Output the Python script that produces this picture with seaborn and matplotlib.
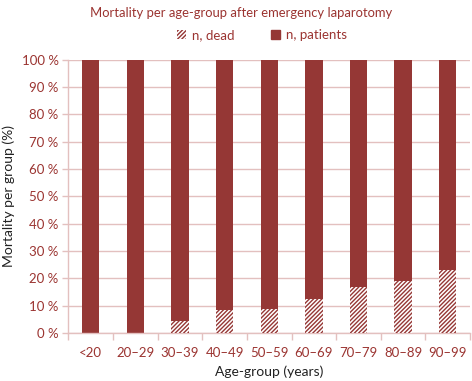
import matplotlib
matplotlib.use("Agg")
import matplotlib.pyplot as plt
import seaborn as sns
import pandas as pd
from matplotlib.patches import Patch

categories = ["<20", "20\u201329", "30\u201339", "40\u201349", "50\u201359", "60\u201369", "70\u201379", "80\u201389", "90\u201399"]
dead_pct = [0.0, 0.0, 4.4, 8.4, 8.8, 12.5, 16.8, 19.0, 23.0]
patients_pct = [100, 100, 100, 100, 100, 100, 100, 100, 100]
yticks = [0, 10, 20, 30, 40, 50, 60, 70, 80, 90, 100]

sns.set_style("white")
plt.rcParams['font.family'] = ['Lato', 'DejaVu Sans']
plt.rcParams['hatch.linewidth'] = 1.0

RED = "#953735"
TXT = "#9b3431"
GRID = "#e3c0bf"
HATCH = "////////"

df = pd.DataFrame({"cat": categories, "dead": dead_pct, "patients": patients_pct})

fig = plt.figure(figsize=(4.72, 3.81), dpi=100)
ax = fig.add_axes([0.145, 0.126, 0.851, 0.717])

sns.barplot(data=df, x="cat", y="patients", color=RED, saturation=1, width=0.39, ax=ax, zorder=2)
sns.barplot(data=df, x="cat", y="dead", color="white", saturation=1, width=0.39, ax=ax, zorder=3)
n = len(categories)
for p in ax.patches[n:]:
    p.set_facecolor("white")
    p.set_edgecolor(RED)
    p.set_hatch(HATCH)
    p.set_linewidth(0)
    if p.get_height() <= 0:
        p.set_visible(False)
for p in ax.patches[:n]:
    p.set_edgecolor(RED)
    p.set_linewidth(0)

ax.set_ylim(0, 100)
ax.set_xlim(-0.5, n - 0.5)
ax.set_yticks(yticks)
ax.set_yticklabels([f"{v} %" for v in yticks], color=TXT, fontsize=9.5)
ax.set_xticks(range(n))
ax.set_xticklabels(categories, color=TXT, fontsize=9.5)
ax.tick_params(axis="x", length=0, pad=10)
ax.tick_params(axis="y", length=4, color=GRID, width=1, pad=3, direction="out", left=True)
ax.set_xticks([i - 0.5 for i in range(n + 1)], minor=True)
ax.tick_params(axis="x", which="minor", length=5, color=GRID, width=1, bottom=True)

ax.yaxis.grid(True, color=GRID, linewidth=1, zorder=0)
ax.set_axisbelow(True)
for s in ["top", "right"]:
    ax.spines[s].set_visible(False)
for s in ["left", "bottom"]:
    ax.spines[s].set_color(GRID)
    ax.spines[s].set_linewidth(1)

ax.set_xlabel("Age-group (years)", fontsize=10, color="#222222", labelpad=5)
ax.set_ylabel("Mortality per group (%)", fontsize=10, color="#222222", labelpad=5)

fig.text(0.51, 0.965, "Mortality per age-group after emergency laparotomy", ha="center", va="center", color=TXT, fontsize=9.4)

handles = [Patch(facecolor="white", edgecolor=RED, hatch=HATCH, linewidth=0),
           Patch(facecolor=RED, edgecolor=RED)]
fig.legend(handles, ["n, dead", "n, patients"], loc="center", bbox_to_anchor=(0.555, 0.908), ncol=2,
           frameon=False, fontsize=9.5, labelcolor=TXT, handlelength=0.7, handleheight=0.7,
           columnspacing=2.8, handletextpad=0.4)

fig.savefig("out.png", dpi=100)
